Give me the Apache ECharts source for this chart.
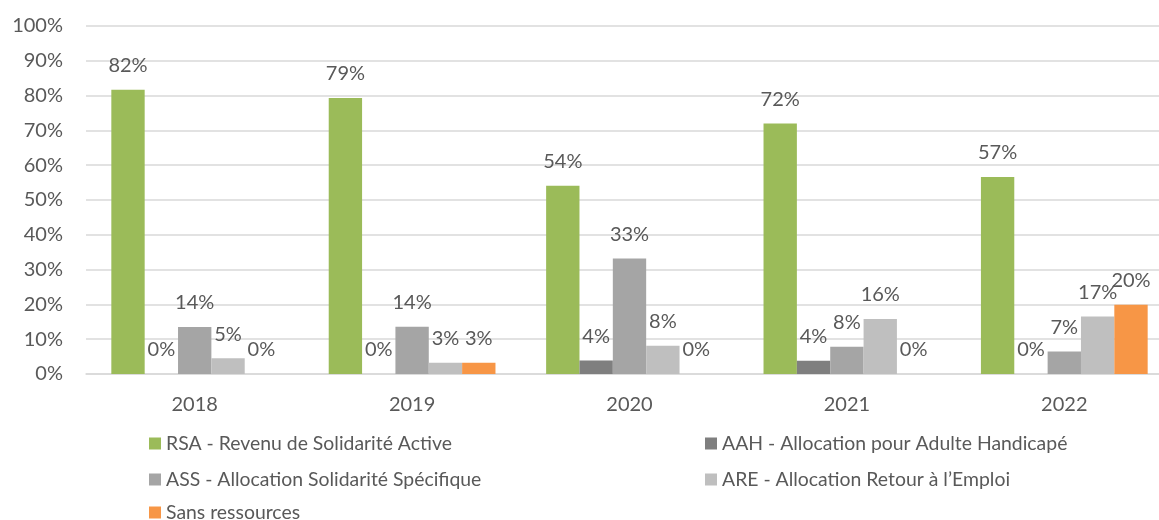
<!DOCTYPE html>
<html>
<head>
<meta charset="utf-8">
<script src="https://cdn.jsdelivr.net/npm/echarts@6/dist/echarts.min.js"></script>
<style>
  html, body { margin: 0; padding: 0; background: #ffffff; }
  #chart { width: 1159px; height: 520px; }
</style>
</head>
<body>
<div id="chart"></div>
<script>
// Years on the category axis
const years = ['2018', '2019', '2020', '2021', '2022'];

// Share of each resource type per year (percent)
const rsa  = [81.7, 79.3, 54.1, 72.0, 56.6];
const aah  = [0,    0,    3.9,  3.8,  0];
const ass  = [13.5, 13.6, 33.2, 7.8,  6.5];
const are  = [4.5,  3.2,  8.1,  15.8, 16.5];
const sans = [0,    3.2,  0,    0,    19.9];

const seriesNames = [
  'RSA - Revenu de Solidarité Active',
  'AAH - Allocation pour Adulte Handicapé',
  'ASS - Allocation Solidarité Spécifique',
  'ARE - Allocation Retour à l\u2019Emploi',
  'Sans ressources'
];
const seriesColors = ['#9bbb59', '#7f7f7f', '#a5a5a5', '#bfbfbf', '#f79646'];
const seriesValues = [rsa, aah, ass, are, sans];

const FONT = 'Lato, "Open Sans", sans-serif';
const TEXT = '#595959';

// One legend block per entry, laid out in two columns
const legendSlots = [
  { left: 149, top: 434 },
  { left: 705, top: 434 },
  { left: 149, top: 470 },
  { left: 705, top: 470 },
  { left: 149, top: 503 }
];

const chart = echarts.init(document.getElementById('chart'), null, { renderer: 'canvas' });

chart.setOption({
  animation: false,
  backgroundColor: '#ffffff',
  textStyle: { fontFamily: FONT },
  // the plot area runs past the right edge of the canvas
  grid: { left: 86, width: 1087, top: 26, bottom: 146, outerBoundsMode: 'none', containLabel: false },
  legend: seriesNames.map((name, i) => ({
    data: [name],
    left: legendSlots[i].left,
    top: legendSlots[i].top,
    padding: 0,
    icon: 'rect',
    itemWidth: 12,
    itemHeight: 12,
    itemGap: 0,
    selectedMode: false,
    textStyle: { fontFamily: FONT, fontSize: 19.4, color: TEXT, padding: [0, 0, 0, 0] }
  })),
  xAxis: {
    type: 'category',
    data: years,
    axisLine: { lineStyle: { color: '#d9d9d9', width: 1.5 } },
    axisTick: { show: false },
    axisLabel: { color: TEXT, fontSize: 20, fontFamily: FONT, margin: 21 }
  },
  yAxis: {
    type: 'value',
    min: 0,
    max: 100,
    interval: 10,
    axisLine: { show: false },
    axisTick: { show: false },
    splitLine: { lineStyle: { color: '#d9d9d9', width: 1.5 } },
    axisLabel: { color: TEXT, fontSize: 20, fontFamily: FONT, margin: 23, formatter: '{value}%' }
  },
  series: seriesNames.map((name, i) => ({
    name: name,
    type: 'bar',
    data: seriesValues[i],
    barGap: '0%',
    barCategoryGap: '23.3%',
    itemStyle: { color: seriesColors[i] },
    label: {
      show: true,
      position: 'top',
      distance: 14,
      color: TEXT,
      fontSize: 20,
      fontFamily: FONT,
      formatter: p => Math.round(p.value) + '%'
    }
  }))
});
</script>
</body>
</html>
